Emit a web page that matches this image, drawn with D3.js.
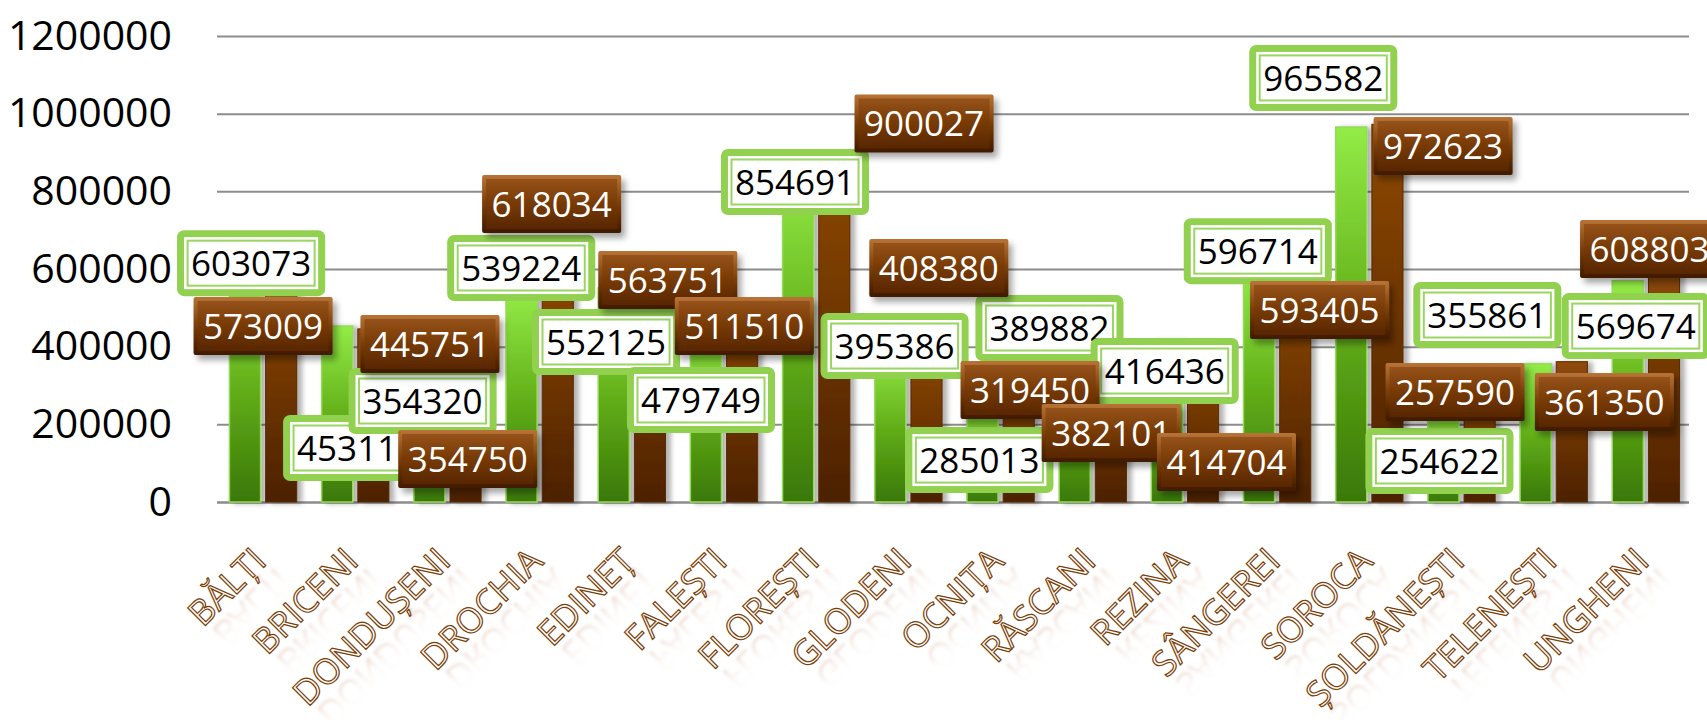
<!DOCTYPE html>
<html>
<head>
<meta charset="utf-8">
<script src="https://cdn.jsdelivr.net/npm/d3@7"></script>
<style>
  body { margin: 0; background: #fff; }
  svg { display: block; font-family: "Open Sans", sans-serif; }
</style>
</head>
<body>
<svg id="chart" width="1707" height="720"></svg>
<script>
// districts on the x axis
const districts = ["BĂLȚI", "BRICENI", "DONDUȘENI", "DROCHIA", "EDINEȚ", "FALEȘTI", "FLOREȘTI", "GLODENI",
    "OCNIȚA", "RĂSCANI", "REZINA", "SÂNGEREI", "SOROCA", "ȘOLDĂNEȘTI", "TELENEȘTI", "UNGHENI"];

// green series
const greenValues = [603073, 453110, 354320, 539224, 552125, 479749, 854691, 395386,
    285013, 389882, 416436, 596714, 965582, 254622, 355861, 569674];

// brown series
const brownValues = [573009, 445751, 354750, 618034, 563751, 511510, 900027, 408380,
    319450, 382101, 414704, 593405, 972623, 257590, 361350, 608803];

const yTicks = [0, 200000, 400000, 600000, 800000, 1000000, 1200000];

// where the (hand placed) data labels sit: offset from band centre in bands, height in data units
const greenLabelDx = [-0.13, 0.02, -0.27, -0.20, -0.28, -0.25, -0.23, -0.15, -0.23, -0.47, -0.22, -0.21, -0.50, -0.24, -0.72, -0.11];
const greenLabelAt = [615000, 139000, 260000, 602600, 412000, 262700, 824000, 401700, 108000, 448000, 337300, 646000, 1092000, 105600, 481500, 453000];
const brownLabelDx = [0, 0.81, 0.22, 0.13, 0.39, 0.22, 1.17, 0.33, 0.32, 0.20, 0.45, 0.46, 0.80, -0.07, 0.55, 0.04];
const brownLabelAt = [453200, 406900, 110700, 767400, 571700, 453200, 974700, 602600, 288400, 177700, 103000, 494400, 916700, 283300, 257500, 651500];

const width = 1707, height = 720;
const left = 217, right = 1692, gridRight = 1689;

const svg = d3.select("#chart");
const defs = svg.append("defs");

const grad = (id, stops) => {
    const g = defs.append("linearGradient").attr("id", id)
        .attr("x1", 0).attr("y1", 0).attr("x2", 0).attr("y2", 1);
    stops.forEach(s => g.append("stop").attr("offset", s[0]).attr("stop-color", s[1])
        .attr("stop-opacity", s[2] === undefined ? 1 : s[2]));
};
grad("greenBar", [[0, "#93ec46"], [0.5, "#63b01a"], [1, "#3a7806"]]);
grad("brownBar", [[0, "#8f4a08"], [0.5, "#6e3502"], [1, "#4c2100"]]);
grad("brownBoxOuter", [[0, "#b87436"], [0.5, "#7a3d08"], [1, "#3f1a00"]]);
grad("brownBoxInner", [[0, "#96521a"], [0.45, "#7a3c06"], [1, "#582600"]]);
// mirror image of the x labels: strongest next to the baseline
grad("reflect", [[0, "#f2e2da", 0], [0.4, "#ecd6ca", 0.08], [1, "#d6ac96", 0.75]]);

const shadow = defs.append("filter").attr("id", "barShadow")
    .attr("x", "-30%").attr("y", "-10%").attr("width", "180%").attr("height", "130%");
shadow.append("feDropShadow").attr("dx", 5).attr("dy", 1).attr("stdDeviation", 2.5)
    .attr("flood-color", "#000").attr("flood-opacity", 0.3);

const boxShadow = defs.append("filter").attr("id", "boxShadow")
    .attr("x", "-20%").attr("y", "-20%").attr("width", "150%").attr("height", "160%");
boxShadow.append("feDropShadow").attr("dx", 4).attr("dy", 5).attr("stdDeviation", 3)
    .attr("flood-color", "#000").attr("flood-opacity", 0.35);

const blur = defs.append("filter").attr("id", "soft");
blur.append("feGaussianBlur").attr("stdDeviation", 1.8);

svg.append("rect").attr("width", width).attr("height", height).attr("fill", "#fff");

const x = d3.scaleBand().domain(districts).range([left, right])
    .paddingInner(0.27).paddingOuter(0.135);
const xs = d3.scaleBand().domain(["green", "brown"]).range([0, x.bandwidth()]).paddingInner(0.14);
const y = d3.scaleLinear().domain([0, 1200000]).range([502, 36]);

// grid + y labels
const yAxis = svg.append("g")
    .attr("transform", `translate(${left},0)`)
    .call(d3.axisLeft(y).tickValues(yTicks).tickSize(-(gridRight - left)).tickPadding(45)
        .tickFormat(d3.format("d")));
yAxis.select(".domain").remove();
yAxis.selectAll(".tick line")
    .attr("stroke", "#8c8c8c")
    .attr("stroke-width", d => d === 0 ? 2.5 : 2);
yAxis.selectAll(".tick text")
    .attr("fill", "#000")
    .style("font-size", "41px")
    .style("font-family", "'Open Sans', sans-serif");

// bars
const bars = svg.append("g");
bars.selectAll(".g-bar")
    .data(districts)
    .enter().append("rect")
    .attr("class", "g-bar")
    .attr("x", d => x(d) + xs("green"))
    .attr("y", (d, i) => y(greenValues[i]))
    .attr("width", xs.bandwidth())
    .attr("height", (d, i) => y(0) - y(greenValues[i]))
    .attr("fill", "url(#greenBar)")
    .attr("stroke", "#96d95a")
    .attr("stroke-width", 1.5)
    .attr("filter", "url(#barShadow)");

bars.selectAll(".b-bar")
    .data(districts)
    .enter().append("rect")
    .attr("class", "b-bar")
    .attr("x", d => x(d) + xs("brown"))
    .attr("y", (d, i) => y(brownValues[i]))
    .attr("width", xs.bandwidth())
    .attr("height", (d, i) => y(0) - y(brownValues[i]))
    .attr("fill", "url(#brownBar)")
    .attr("stroke", "#5a2a02")
    .attr("stroke-width", 1)
    .attr("filter", "url(#barShadow)");

// x labels, outlined, with a faded mirror image under the baseline
const xl = svg.append("g");
districts.forEach(d => {
    const cx = x(d) + x.bandwidth() / 2 + 5, cy = 563;
    xl.append("text")
        .attr("transform", `translate(${cx},${cy}) rotate(-45) translate(3,7) scale(1,-1)`)
        .attr("text-anchor", "end")
        .attr("fill", "url(#reflect)")
        .attr("filter", "url(#soft)")
        .style("font-size", "35px")
        .text(d);
    xl.append("text")
        .attr("transform", `translate(${cx},${cy}) rotate(-45)`)
        .attr("text-anchor", "end")
        .attr("fill", "#fff")
        .attr("stroke", "#7a3e06")
        .attr("stroke-width", 1.2)
        .style("font-size", "35px")
        .text(d);
});

const labelCx = (i, dx) => x(districts[i]) + x.bandwidth() / 2 + dx * x.step();

// green data labels
const gl = svg.append("g");
greenValues.forEach((v, i) => {
    const g = gl.append("g")
        .attr("transform", `translate(${labelCx(i, greenLabelDx[i])},${y(greenLabelAt[i])})`);
    const t = g.append("text")
        .attr("text-anchor", "middle")
        .attr("dy", "0.36em")
        .attr("fill", "#000")
        .style("font-size", "35px")
        .text(v);
    const w = t.node().getComputedTextLength() + 28, h = 66;
    g.insert("rect", "text").attr("x", -w / 2).attr("y", -h / 2).attr("width", w).attr("height", h)
        .attr("rx", 7).attr("fill", "#92d050");
    g.insert("rect", "text").attr("x", -w / 2 + 7).attr("y", -h / 2 + 7)
        .attr("width", w - 14).attr("height", h - 14).attr("fill", "#fff");
    g.insert("rect", "text").attr("x", -w / 2 + 10.5).attr("y", -h / 2 + 10.5)
        .attr("width", w - 21).attr("height", h - 21)
        .attr("fill", "none").attr("stroke", "#9ad562").attr("stroke-width", 2);
});

// brown data labels
const bl = svg.append("g");
brownValues.forEach((v, i) => {
    const g = bl.append("g")
        .attr("transform", `translate(${labelCx(i, brownLabelDx[i])},${y(brownLabelAt[i])})`);
    const t = g.append("text")
        .attr("text-anchor", "middle")
        .attr("dy", "0.36em")
        .attr("fill", "#fff")
        .style("font-size", "35px")
        .text(v);
    const w = t.node().getComputedTextLength() + 19, h = 58;
    g.insert("rect", "text").attr("x", -w / 2).attr("y", -h / 2).attr("width", w).attr("height", h)
        .attr("rx", 2).attr("fill", "url(#brownBoxOuter)").attr("filter", "url(#boxShadow)");
    g.insert("rect", "text").attr("x", -w / 2 + 4).attr("y", -h / 2 + 4)
        .attr("width", w - 8).attr("height", h - 8).attr("fill", "url(#brownBoxInner)");
});
</script>
</body>
</html>
